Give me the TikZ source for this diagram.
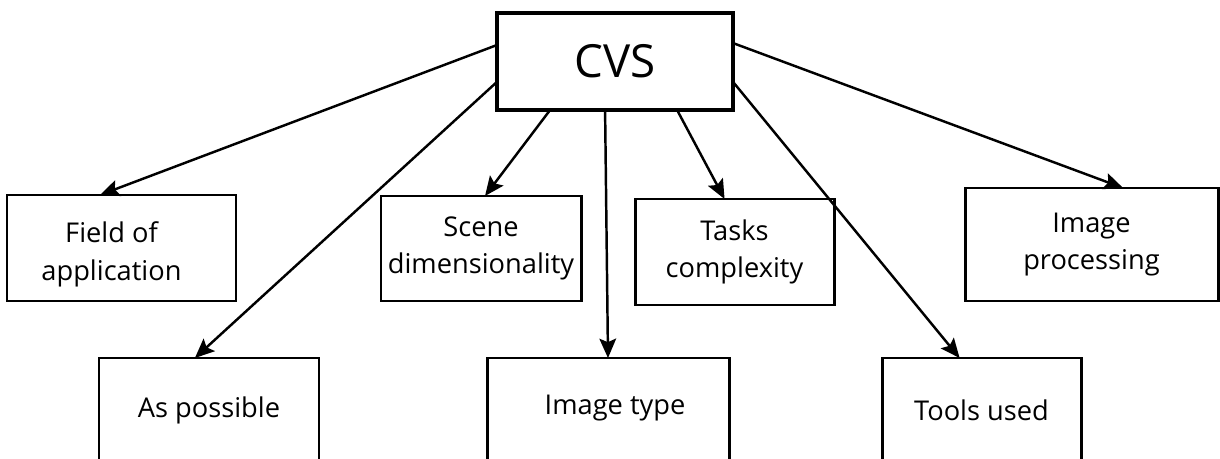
\documentclass[tikz,border=0pt]{standalone}
\usepackage{fontspec}
\setmainfont{Open Sans}
\usetikzlibrary{calc,arrows.meta}
\begin{document}
\begin{tikzpicture}[x=0.02cm,y=-0.02cm,
  box/.style={draw, line width=1.7pt, fill=white, inner sep=0pt, outer sep=0pt, align=center, font=\fontsize{15.5}{21.5}\selectfont},
  txt/.style={inner sep=0pt, align=center, font=\fontsize{15.5}{21.5}\selectfont},
  sz/.style 2 args={minimum width=#1*0.02cm, minimum height=#2*0.02cm},
  arr/.style={-{Stealth[length=11pt,width=9.5pt,inset=2pt]}, line width=1.4pt}]
\clip (0,0) rectangle (1220,459);
\fill[white] (0,0) rectangle (1220,459);
\node[box, line width=2.6pt, sz={236}{97}, font=\fontsize{26}{30}\selectfont] (cvs) at (615,61.5) {CVS};
\node[box, sz={229}{106}] (fa) at (121.5,248) {};
\node[txt] (fat) at ($(fa.center)+(-10,6)$) {Field of\\application};
\node[box, sz={200}{105}] (sd) at (481,248.5) {Scene\\dimensionality};
\node[box, sz={199}{106}] (tc) at (734.5,252) {Tasks\\complexity};
\node[box, sz={253}{113}] (ip) at (1091.5,244.5) {Image\\processing};
\node[box, sz={220}{104}] (ap) at (209,410) {As possible};
\node[box, sz={242}{104}] (it) at (608,410) {};
\node[txt] (itt) at ($(it.center)+(7,-2)$) {Image type};
\node[box, sz={199}{104}] (tu) at (981.5,410) {Tools used};
\draw[arr] ($(cvs.north west)!0.33!(cvs.south west)$) -- ($(fa.north west)!0.406!(fa.north east)$);
\draw[arr] ($(cvs.north west)!0.71!(cvs.south west)$) -- ($(ap.north west)!0.436!(ap.north east)$);
\draw[arr] ($(cvs.south west)!0.225!(cvs.south east)$) -- ($(sd.north west)!0.52!(sd.north east)$);
\draw[arr] ($(cvs.south west)!0.458!(cvs.south east)$) -- ($(it.north west)!0.5!(it.north east)$);
\draw[arr] ($(cvs.south west)!0.763!(cvs.south east)$) -- ($(tc.north west)!0.45!(tc.north east)$);
\draw[arr] ($(cvs.north east)!0.71!(cvs.south east)$) -- ($(tu.north west)!0.39!(tu.north east)$);
\draw[arr] ($(cvs.north east)!0.31!(cvs.south east)$) -- ($(ip.north west)!0.625!(ip.north east)$);
\end{tikzpicture}
\end{document}
